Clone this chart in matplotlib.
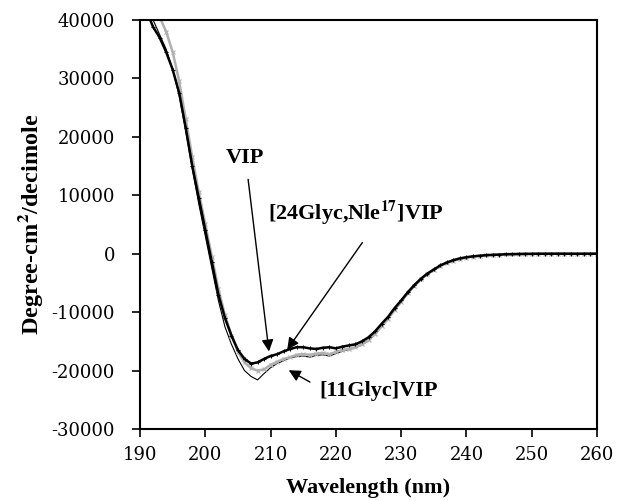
import matplotlib
matplotlib.use('Agg')
import matplotlib.pyplot as plt

plt.rcParams['font.family'] = 'Liberation Serif'
plt.rcParams['mathtext.fontset'] = 'stix'
plt.rcParams['axes.unicode_minus'] = False

wl = list(range(190, 261))

vip = [44000, 41500, 38800, 37000, 34500, 31500, 27500, 21500, 15000, 9500,
       4000, -1500, -7000, -11000, -14000, -16500, -18000, -18800, -18600, -18000,
       -17500, -17200, -16700, -16300, -16000, -16000, -16200, -16300, -16100, -16000,
       -16200, -15900, -15700, -15500, -15000, -14300, -13300, -12000, -10800, -9300,
       -8000, -6600, -5400, -4300, -3400, -2700, -2000, -1500, -1100, -800,
       -600, -450, -350, -250, -200, -150, -100, -80, -50, -30,
       -20, 0, -10, 0, 10, 0, 0, -10, 0, 0, 0]

glyc24 = [50000, 46000, 43000, 40500, 38000, 34500, 29500, 23000, 16500, 10500,
          5000, -500, -6000, -10500, -14000, -16800, -18600, -19600, -20000, -19800,
          -19000, -18500, -18000, -17700, -17300, -17200, -17300, -17100, -17000, -17200,
          -16800, -16500, -16300, -16000, -15500, -14800, -13700, -12400, -11100, -9600,
          -8200, -6800, -5500, -4400, -3500, -2800, -2100, -1600, -1200, -900,
          -650, -500, -380, -280, -200, -150, -110, -80, -60, -40,
          -20, -10, 0, 0, 0, 10, 0, 0, 0, 0, 0]

glyc11 = [46000, 42500, 40000, 37500, 35000, 31500, 27000, 21000, 14500, 8500,
          3000, -2500, -8000, -12500, -15500, -18000, -20000, -21000, -21600, -20500,
          -19500, -18800, -18300, -17800, -17600, -17500, -17700, -17400, -17300, -17500,
          -17100, -16700, -16400, -16100, -15600, -14900, -13800, -12500, -11200, -9700,
          -8300, -6900, -5600, -4500, -3600, -2800, -2100, -1600, -1200, -900,
          -650, -500, -380, -280, -200, -150, -110, -80, -60, -40,
          -20, -10, 0, 0, 0, 0, 0, 0, 0, 0, 0]

fig = plt.figure(figsize=(6.17, 5.01), dpi=100)
ax = fig.add_axes([0.227, 0.1437, 0.7406, 0.8164])

ax.plot(wl, glyc11, color='black', lw=0.8)
ax.plot(wl, glyc24, color='#b0b0b0', lw=1.8, marker='x', ms=3, mew=0.8)
ax.plot(wl, vip, color='black', lw=1.8, marker='+', ms=3, mew=0.8)

ax.set_xlim(190, 260)
ax.set_ylim(-30000, 40000)
ax.set_xticks(range(190, 261, 10))
ax.set_yticks(range(-30000, 40001, 10000))
ax.tick_params(direction='out', length=6, width=1.2)
ax.tick_params(axis='y', pad=12)
ax.tick_params(axis='x', pad=6)
for lab in ax.get_xticklabels() + ax.get_yticklabels():
    lab.set_fontfamily('DejaVu Serif')
    lab.set_fontsize(13)
for s in ax.spines.values():
    s.set_linewidth(1.5)

ax.set_xlabel('Wavelength (nm)', fontsize=16, fontweight='bold', labelpad=10)
ax.set_ylabel(r'Degree-cm$^{\mathbf{2}}$/decimole', fontsize=17.5, fontweight='bold', labelpad=5)

arr = dict(arrowstyle='-|>,head_width=0.35,head_length=0.7', color='black', lw=1)
ax.text(206.1, 15500, 'VIP', fontsize=16, fontweight='bold', ha='center', va='baseline')
ax.annotate('', xy=(209.8, -17200), xytext=(206.5, 13200), arrowprops=arr)

ax.text(223.0, 5700, r'[24Glyc,Nle$^{\mathbf{17}}$]VIP', fontsize=16, fontweight='bold',
        ha='center', va='baseline')
ax.annotate('', xy=(212.3, -16800), xytext=(224.3, 2300), arrowprops=arr)

ax.text(217.4, -24300, '[11Glyc]VIP', fontsize=16, fontweight='bold', ha='left', va='baseline')
ax.annotate('', xy=(212.4, -19700), xytext=(216.4, -22200), arrowprops=arr)

fig.savefig('out.png', dpi=100)
